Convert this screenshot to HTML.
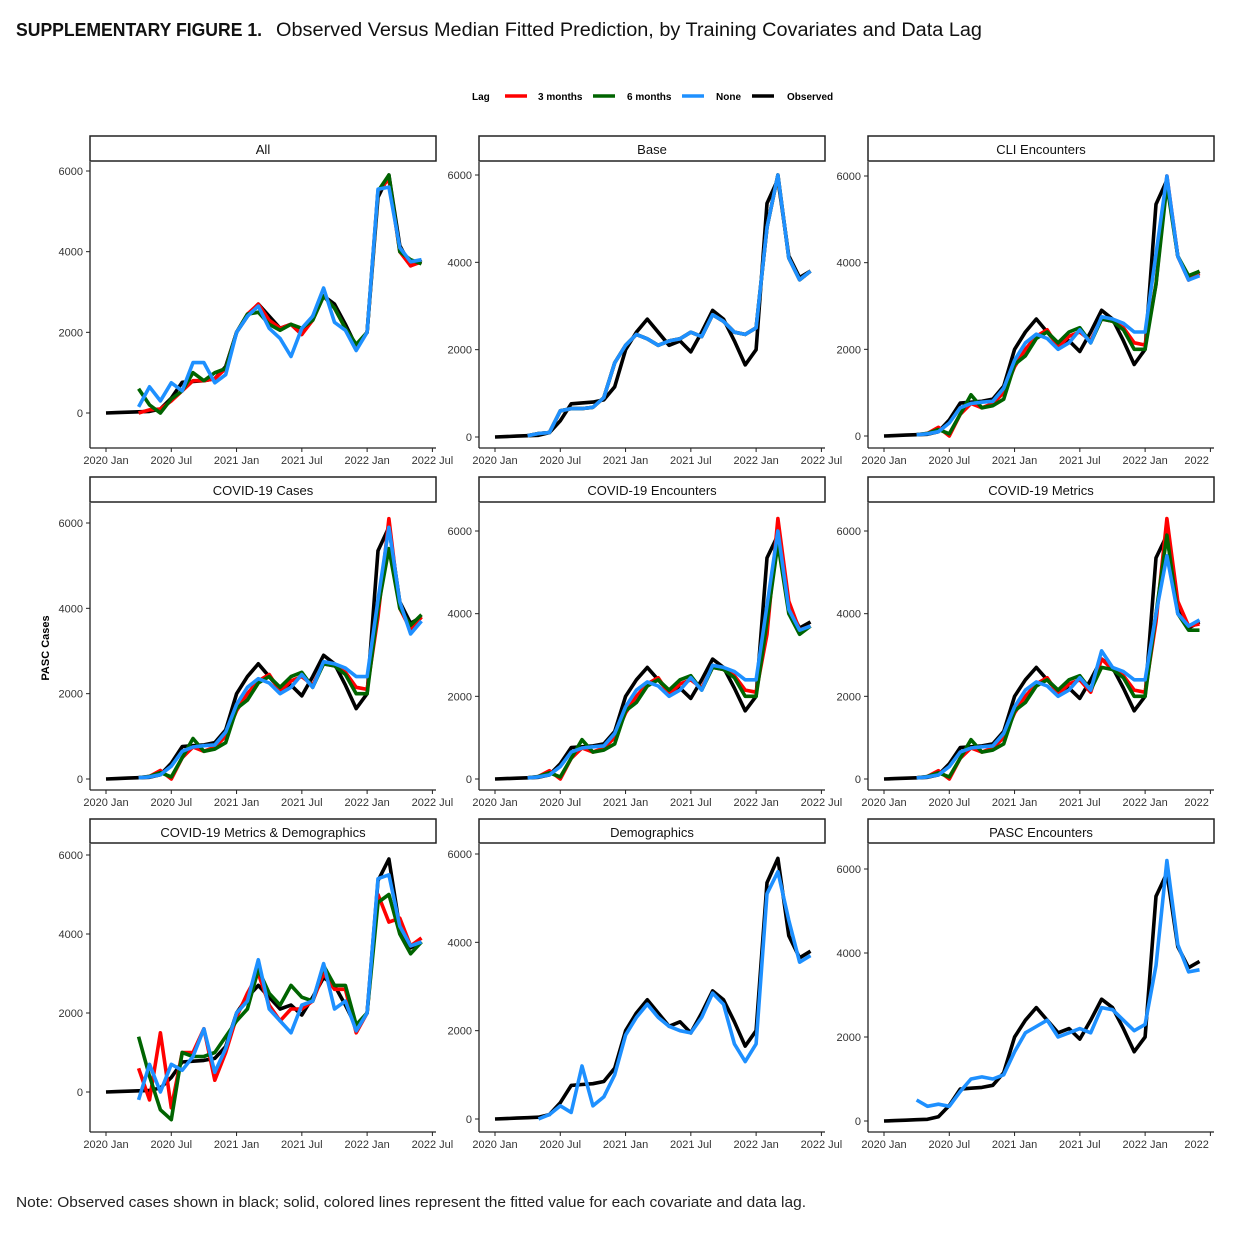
<!DOCTYPE html>
<html><head><meta charset="utf-8"><style>
body{margin:0;background:#fff;width:1250px;height:1242px;overflow:hidden;font-family:"Liberation Sans",sans-serif}
svg{position:absolute;left:0;top:0}
</style></head><body>
<svg id="s" width="1250" height="1242" xmlns="http://www.w3.org/2000/svg">
<text x="16" y="36" font-family="Liberation Sans Narrow, Liberation Sans, sans-serif" font-weight="bold" font-size="18" textLength="246" lengthAdjust="spacingAndGlyphs" fill="#111">SUPPLEMENTARY FIGURE 1.</text>
<text x="276" y="36" font-size="19" textLength="706" lengthAdjust="spacingAndGlyphs" fill="#111">Observed Versus Median Fitted Prediction, by Training Covariates and Data Lag</text>
<g font-size="10" font-weight="bold" fill="#000">
<text x="472" y="100">Lag</text>
<line x1="505" y1="96" x2="527" y2="96" stroke="#f00" stroke-width="3.5"/><text x="538" y="100">3 months</text>
<line x1="593" y1="96" x2="615" y2="96" stroke="#006400" stroke-width="3.5"/><text x="627" y="100">6 months</text>
<line x1="682" y1="96" x2="704" y2="96" stroke="#1e90ff" stroke-width="3.5"/><text x="716" y="100">None</text>
<line x1="752" y1="96" x2="774" y2="96" stroke="#000" stroke-width="3.5"/><text x="787" y="100">Observed</text>
</g>
<text transform="translate(49,648) rotate(-90)" text-anchor="middle" font-size="11" font-weight="bold">PASC Cases</text>
<text x="16" y="1207" font-size="15" textLength="790" lengthAdjust="spacingAndGlyphs" fill="#222">Note: Observed cases shown in black; solid, colored lines represent the fitted value for each covariate and data lag.</text>
<g id="g"></g>
</svg>
<script>
const N=null;
const obs=[0,10,20,30,40,100,370,760,780,800,850,1150,2000,2400,2700,2400,2100,2200,1950,2400,2900,2700,2200,1650,2000,5350,5900,4150,3650,3800];
const pre=[N,N,N];
const baseB=pre.concat([30,80,100,600,650,650,680,900,1700,2100,2350,2250,2100,2200,2250,2400,2300,2800,2650,2400,2350,2500,4800,6000,4100,3600,3800]);
const cliB=pre.concat([30,50,100,300,650,750,780,800,1100,1750,2150,2350,2250,2000,2150,2450,2150,2750,2700,2600,2400,2400,4200,6000,4150,3600,3700]);
const cliR=pre.concat([30,60,200,0,500,750,650,750,1000,1600,2000,2300,2450,2050,2300,2400,2200,2700,2650,2500,2150,2100,3500,6000,4150,3600,3750]);
const cliG=pre.concat([30,60,150,50,500,950,650,700,850,1650,1850,2250,2400,2150,2400,2500,2150,2700,2650,2450,2000,2000,3500,5800,4150,3700,3800]);
function mod(a,ch){return a.map((v,i)=>v===null?null:(ch[i]!==undefined?ch[i]:v));}
const panels=[
{t:"All",c:0,r:0,z:413,s:171,
 R:pre.concat([0,80,100,300,550,800,800,850,1100,2000,2450,2700,2300,2100,2200,1950,2300,2900,2600,2100,1650,2000,5500,5800,4000,3650,3750]),
 G:pre.concat([600,200,0,350,550,1000,800,1000,1100,2000,2450,2500,2200,2050,2200,2100,2300,2900,2600,2100,1700,2000,5500,5900,4000,3800,3700]),
 B:pre.concat([150,650,300,750,550,1250,1250,750,950,2000,2400,2650,2100,1850,1400,2100,2400,3100,2250,2050,1550,2000,5550,5600,4100,3750,3800]),
 xl:"2022 Jul"},
{t:"Base",c:1,r:0,z:437,s:175,R:baseB,G:baseB,B:baseB,xl:"2022 Jul"},
{t:"CLI Encounters",c:2,r:0,z:436,s:176,R:cliR,G:cliG,B:cliB,xl:"2022"},
{t:"COVID-19 Cases",c:0,r:1,z:779,s:523,R:mod(cliR,{25:3800,26:6100,27:4000,28:3500,29:3800}),G:mod(cliG,{25:4000,26:5400,27:4000,28:3600,29:3850}),B:mod(cliB,{26:5900,28:3400}),xl:"2022 Jul"},
{t:"COVID-19 Encounters",c:1,r:1,z:779,s:531,R:mod(cliR,{25:3500,26:6300,27:4300,28:3600,29:3700}),G:mod(cliG,{25:3800,26:5700,27:4000,28:3500,29:3700}),B:mod(cliB,{26:6000,27:4100}),xl:"2022 Jul"},
{t:"COVID-19 Metrics",c:2,r:1,z:779,s:531,R:mod(cliR,{19:2100,20:2900,25:3800,26:6300,27:4300,28:3700,29:3750}),G:mod(cliG,{25:4000,26:5900,27:4000,28:3600,29:3600}),B:mod(cliB,{20:3100,25:4000,26:5400,27:4000,28:3700,29:3850}),xl:"2022"},
{t:"COVID-19 Metrics & Demographics",c:0,r:2,z:1092,s:855,
 R:pre.concat([600,-200,1500,-400,1000,1000,1600,300,1000,1900,2500,3000,2200,1800,2100,2100,2300,3000,2600,2600,1500,2000,5000,4300,4400,3700,3900]),
 G:pre.concat([1400,400,-450,-700,1000,900,900,1000,1400,1800,2100,3100,2500,2200,2700,2400,2300,3200,2700,2700,1700,2000,4800,5000,4000,3500,3800]),
 B:pre.concat([-200,700,0,700,550,900,1600,500,1100,2000,2300,3350,2100,1800,1500,2200,2300,3250,2100,2300,1550,2000,5400,5500,4200,3700,3800]),
 xl:"2022 Jul"},
{t:"Demographics",c:1,r:2,z:1119,s:854,R:null,G:null,
 B:[N,N,N,N,0,100,300,150,1200,300,500,1000,1900,2300,2600,2300,2100,2000,1950,2300,2850,2600,1700,1300,1700,5100,5600,4500,3550,3700],xl:"2022 Jul"},
{t:"PASC Encounters",c:2,r:2,z:1121,s:869,R:null,G:null,
 B:pre.concat([500,350,400,350,700,1000,1050,1000,1100,1650,2100,2250,2400,2000,2100,2200,2100,2700,2650,2400,2150,2300,3700,6200,4200,3550,3600]),xl:"2022"}
];
const NS="http://www.w3.org/2000/svg",g=document.getElementById("g");
function el(n,a,txt){const e=document.createElementNS(NS,n);for(const k in a)e.setAttribute(k,a[k]);if(txt!==undefined)e.textContent=txt;g.appendChild(e);return e;}
const lefts=[90,479,868],tops=[[136,162,448],[477,503,790],[819,844,1132]];
const xlab=["2020 Jan","2020 Jul","2021 Jan","2021 Jul","2022 Jan"];
panels.forEach(p=>{
 const L=lefts[p.c],R=L+346,[st,pt,pb]=tops[p.r];
 const x0=L+16,dx=10.88,ys=(p.z-p.s)/6000;
 const X=i=>x0+i*dx,Y=v=>p.z-v*ys;
 el("rect",{x:L,y:st,width:346,height:pt-st-1,fill:"#fff",stroke:"#222","stroke-width":1.5});
 el("text",{x:L+173,y:st+18,"text-anchor":"middle","font-size":13,fill:"#111"},p.t);
 el("line",{x1:L,y1:pt,x2:L,y2:pb,stroke:"#222","stroke-width":1.3});
 el("line",{x1:L,y1:pb,x2:R,y2:pb,stroke:"#222","stroke-width":1.3});
 [0,2000,4000,6000].forEach(v=>{const y=Y(v);el("line",{x1:L-4,y1:y,x2:L,y2:y,stroke:"#222"});
  el("text",{x:L-7,y:y+4,"text-anchor":"end","font-size":11,fill:"#333"},v);});
 for(let k=0;k<=5;k++){const x=X(k*6);el("line",{x1:x,y1:pb,x2:x,y2:pb+4,stroke:"#222"});
  const lab=k<5?xlab[k]:p.xl;
  el("text",{x:x,y:pb+16,"text-anchor":(k==5&&lab=="2022")?"start":"middle",dx:(k==5&&lab=="2022")?-26:0,"font-size":11,fill:"#333"},lab);}
 const path=(a,c)=>{if(!a)return;let d="";a.forEach((v,i)=>{if(v===null)return;d+=(d?"L":"M")+X(i).toFixed(1)+","+Y(v).toFixed(1);});
  el("path",{d:d,fill:"none",stroke:c,"stroke-width":3.6,"stroke-linejoin":"round"});};
 path(obs,"#000");path(p.R,"#f00");path(p.G,"#006400");path(p.B,"#1e90ff");
});
</script>
</body></html>
